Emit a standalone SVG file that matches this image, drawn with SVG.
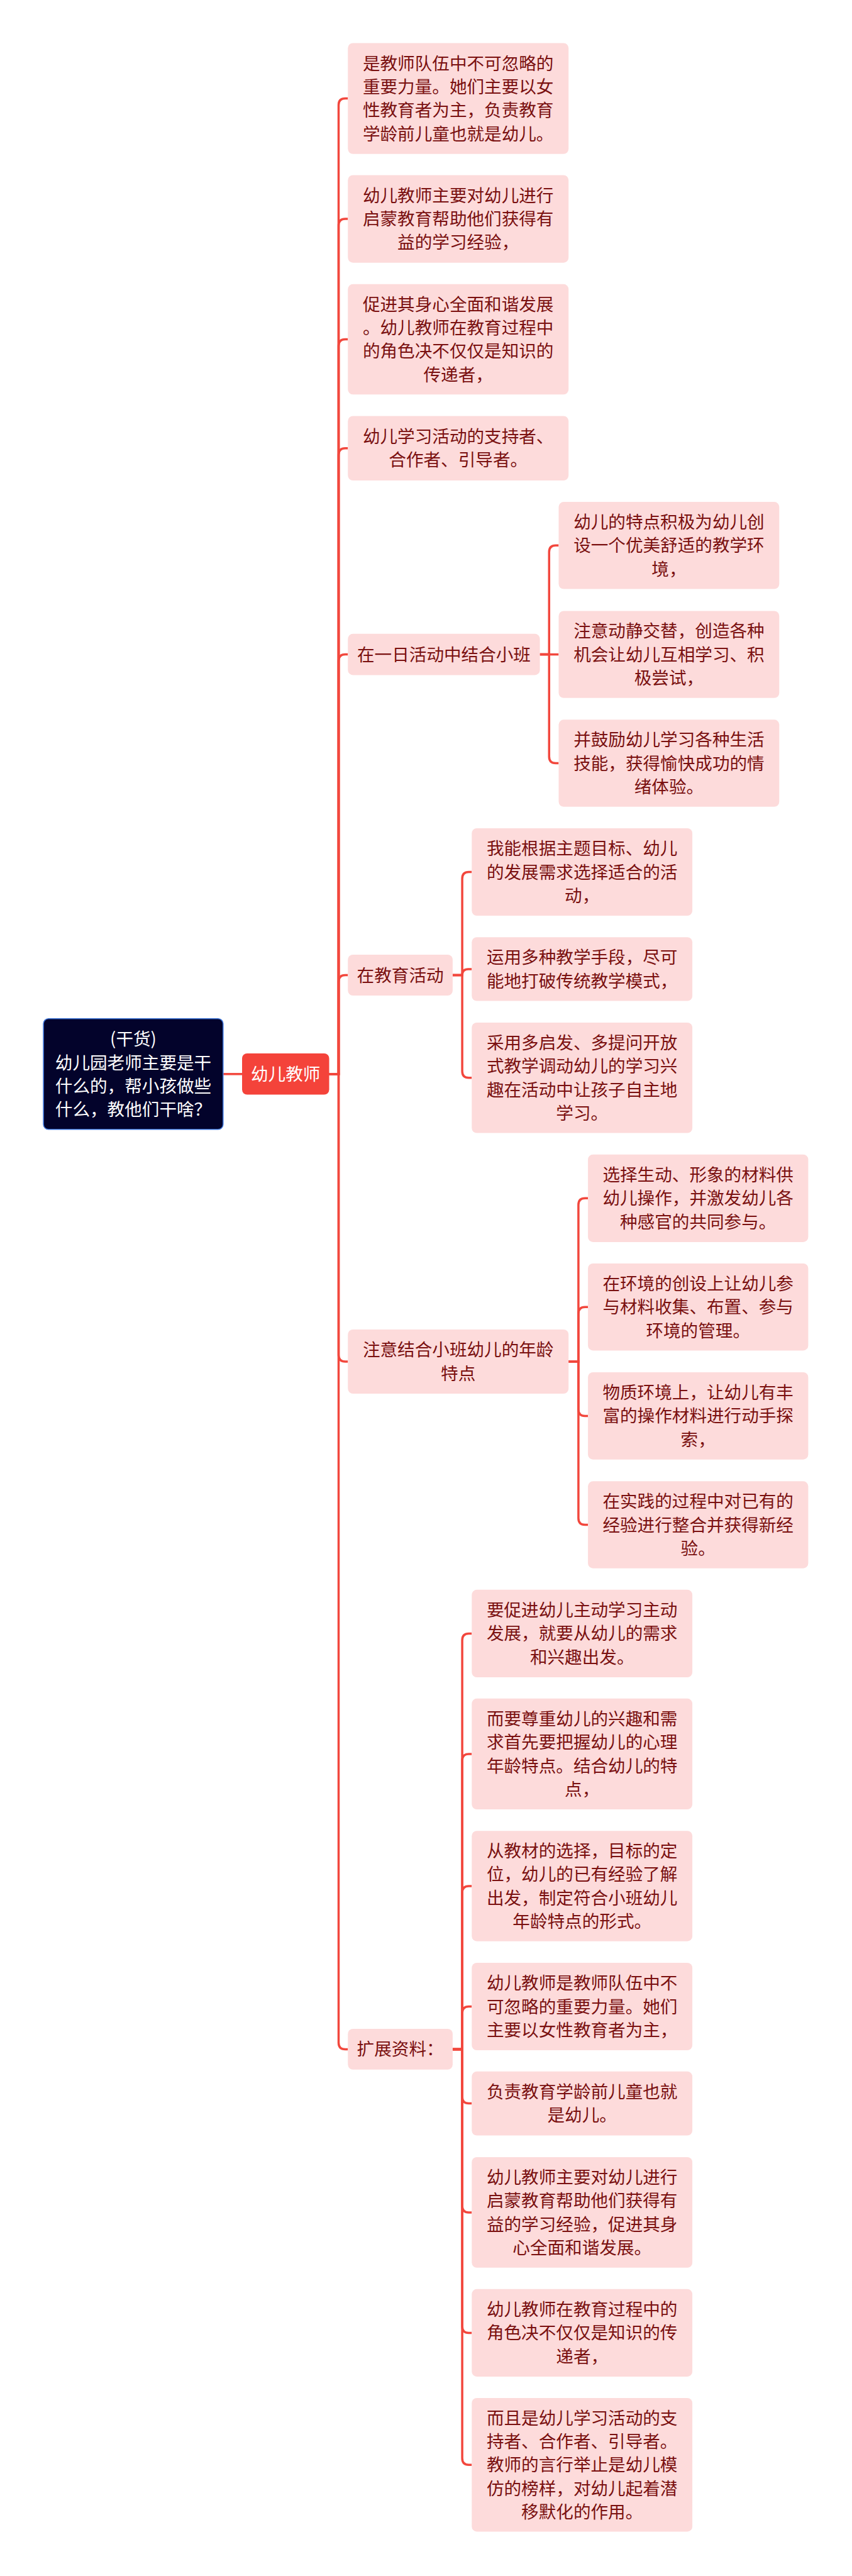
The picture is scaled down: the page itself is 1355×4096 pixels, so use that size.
<svg xmlns="http://www.w3.org/2000/svg" width="1355" height="4096" viewBox="0 0 1355 4096">
<style>
.bg{fill:#ffffff}
.leaf rect{fill:#fddbdb}
.t{font-family:"Noto Sans CJK SC","Noto Sans",sans-serif;font-size:27.6px;fill:#7a1010;text-anchor:middle}
.w{fill:#ffffff}
.c path{fill:none;stroke:#f2473d;stroke-width:3.5;stroke-linecap:butt}
</style>
<rect class="bg" x="0" y="0" width="1355" height="4096"/>
<g class="c" id="connectors">
<path d="M354.8 1707.8H385"/>
<path d="M523.5 1707.8H538.5V167.1Q538.5 156.6 549 156.6H553.3"/>
<path d="M523.5 1707.8H538.5V358.6Q538.5 348.1 549 348.1H553.3"/>
<path d="M523.5 1707.8H538.5V550Q538.5 539.5 549 539.5H553.3"/>
<path d="M523.5 1707.8H538.5V723.3Q538.5 712.8 549 712.8H553.3"/>
<path d="M523.5 1707.8H538.5V1051.1Q538.5 1040.6 549 1040.6H553.3"/>
<path d="M523.5 1707.8H538.5V1561Q538.5 1550.5 549 1550.5H553.3"/>
<path d="M523.5 1707.8H538.5V2154.5Q538.5 2165 549 2165H553.3"/>
<path d="M523.5 1707.8H538.5V3247.9Q538.5 3258.4 549 3258.4H553.3"/>
<path d="M858.6 1040.6H873.3V877.8Q873.3 867.3 883.8 867.3H888.5"/>
<path d="M858.6 1040.6H888.5"/>
<path d="M858.6 1040.6H873.3V1203Q873.3 1213.5 883.8 1213.5H888.5"/>
<path d="M719.9 1550.5H735.1V1397Q735.1 1386.5 745.6 1386.5H750.3"/>
<path d="M719.9 1550.5H735.1V1550.5Q735.1 1540.9 744.7 1540.9H750.3"/>
<path d="M719.9 1550.5H735.1V1703.3Q735.1 1713.8 745.6 1713.8H750.3"/>
<path d="M904.2 2165H919.9V1915.8Q919.9 1905.3 930.4 1905.3H935.1"/>
<path d="M904.2 2165H919.9V2088.7Q919.9 2078.2 930.4 2078.2H935.1"/>
<path d="M904.2 2165H919.9V2240.9Q919.9 2251.4 930.4 2251.4H935.1"/>
<path d="M904.2 2165H919.9V2414Q919.9 2424.5 930.4 2424.5H935.1"/>
<path d="M719.9 3258.4H735.1V2607.9Q735.1 2597.4 745.6 2597.4H750.3"/>
<path d="M719.9 3258.4H735.1V2799.4Q735.1 2788.9 745.6 2788.9H750.3"/>
<path d="M719.9 3258.4H735.1V3009.5Q735.1 2999 745.6 2999H750.3"/>
<path d="M719.9 3258.4H735.1V3201Q735.1 3190.5 745.6 3190.5H750.3"/>
<path d="M719.9 3258.4H735.1V3334.1Q735.1 3344.6 745.6 3344.6H750.3"/>
<path d="M719.9 3258.4H735.1V3507.4Q735.1 3517.9 745.6 3517.9H750.3"/>
<path d="M719.9 3258.4H735.1V3698.9Q735.1 3709.4 745.6 3709.4H750.3"/>
<path d="M719.9 3258.4H735.1V3908.7Q735.1 3919.2 745.6 3919.2H750.3"/>
</g>

<g id="root">
<rect x="69.1" y="1619.8" width="285.7" height="176" rx="8" fill="#03032b" stroke="#3d74d9" stroke-width="1.6"/>
<text class="t w" x="212" y="1662.4">(干货)</text>
<text class="t w" x="212" y="1699.7">幼儿园老师主要是干</text>
<text class="t w" x="212" y="1737">什么的，帮小孩做些</text>
<text class="t w" x="212" y="1774.3">什么，教他们干啥？</text>
</g>

<g id="main">
<rect x="385" y="1675" width="138.5" height="65.6" rx="8" fill="#f4433a"/>
<text class="t w" x="454.2" y="1717.8">幼儿教师</text>
</g>

<g class="leaf" id="n1">
<rect x="553.3" y="68.5" width="350.9" height="176.3" rx="8"/>
<text class="t" x="728.7" y="110.7">是教师队伍中不可忽略的</text>
<text class="t" x="728.7" y="148">重要力量。她们主要以女</text>
<text class="t" x="728.7" y="185.3">性教育者为主，负责教育</text>
<text class="t" x="728.7" y="222.6">学龄前儿童也就是幼儿。</text>
</g>
<g class="leaf" id="n2">
<rect x="553.3" y="278.5" width="350.9" height="139.2" rx="8"/>
<text class="t" x="728.7" y="320.8">幼儿教师主要对幼儿进行</text>
<text class="t" x="728.7" y="358.1">启蒙教育帮助他们获得有</text>
<text class="t" x="728.7" y="395.4">益的学习经验，</text>
</g>
<g class="leaf" id="n3">
<rect x="553.3" y="451.8" width="350.9" height="175.5" rx="8"/>
<text class="t" x="728.7" y="493.6">促进其身心全面和谐发展</text>
<text class="t" x="728.7" y="530.9">。幼儿教师在教育过程中</text>
<text class="t" x="728.7" y="568.2">的角色决不仅仅是知识的</text>
<text class="t" x="728.7" y="605.5">传递者，</text>
</g>
<g class="leaf" id="n4">
<rect x="553.3" y="661.5" width="350.9" height="102.5" rx="8"/>
<text class="t" x="728.7" y="704.1">幼儿学习活动的支持者、</text>
<text class="t" x="728.7" y="741.4">合作者、引导者。</text>
</g>

<g class="leaf" id="b1">
<rect x="553.3" y="1007.8" width="305.3" height="65.6" rx="8"/>
<text class="t" x="706" y="1050.6">在一日活动中结合小班</text>
</g>
<g class="leaf" id="b1s1">
<rect x="888.5" y="798.1" width="350.8" height="138.4" rx="8"/>
<text class="t" x="1063.9" y="840">幼儿的特点积极为幼儿创</text>
<text class="t" x="1063.9" y="877.3">设一个优美舒适的教学环</text>
<text class="t" x="1063.9" y="914.6">境，</text>
</g>
<g class="leaf" id="b1s2">
<rect x="888.5" y="971.4" width="350.8" height="138.4" rx="8"/>
<text class="t" x="1063.9" y="1013.3">注意动静交替，创造各种</text>
<text class="t" x="1063.9" y="1050.6">机会让幼儿互相学习、积</text>
<text class="t" x="1063.9" y="1087.9">极尝试，</text>
</g>
<g class="leaf" id="b1s3">
<rect x="888.5" y="1144.3" width="350.8" height="138.5" rx="8"/>
<text class="t" x="1063.9" y="1186.3">并鼓励幼儿学习各种生活</text>
<text class="t" x="1063.9" y="1223.6">技能，获得愉快成功的情</text>
<text class="t" x="1063.9" y="1260.9">绪体验。</text>
</g>

<g class="leaf" id="b2">
<rect x="553.3" y="1518" width="166.6" height="65" rx="8"/>
<text class="t" x="636.6" y="1560.5">在教育活动</text>
</g>
<g class="leaf" id="b2s1">
<rect x="750.3" y="1316.9" width="350.8" height="139.2" rx="8"/>
<text class="t" x="925.7" y="1359.2">我能根据主题目标、幼儿</text>
<text class="t" x="925.7" y="1396.5">的发展需求选择适合的活</text>
<text class="t" x="925.7" y="1433.8">动，</text>
</g>
<g class="leaf" id="b2s2">
<rect x="750.3" y="1490.2" width="350.8" height="101.3" rx="8"/>
<text class="t" x="925.7" y="1532.2">运用多种教学手段，尽可</text>
<text class="t" x="925.7" y="1569.5">能地打破传统教学模式，</text>
</g>
<g class="leaf" id="b2s3">
<rect x="750.3" y="1626" width="350.8" height="175.6" rx="8"/>
<text class="t" x="925.7" y="1667.9">采用多启发、多提问开放</text>
<text class="t" x="925.7" y="1705.2">式教学调动幼儿的学习兴</text>
<text class="t" x="925.7" y="1742.5">趣在活动中让孩子自主地</text>
<text class="t" x="925.7" y="1779.8">学习。</text>
</g>

<g class="leaf" id="b3">
<rect x="553.3" y="2114" width="350.9" height="102.1" rx="8"/>
<text class="t" x="728.7" y="2156.4">注意结合小班幼儿的年龄</text>
<text class="t" x="728.7" y="2193.7">特点</text>
</g>
<g class="leaf" id="b3s1">
<rect x="935.1" y="1835.7" width="350.3" height="139.2" rx="8"/>
<text class="t" x="1110.2" y="1878">选择生动、形象的材料供</text>
<text class="t" x="1110.2" y="1915.3">幼儿操作，并激发幼儿各</text>
<text class="t" x="1110.2" y="1952.6">种感官的共同参与。</text>
</g>
<g class="leaf" id="b3s2">
<rect x="935.1" y="2009" width="350.3" height="138.4" rx="8"/>
<text class="t" x="1110.2" y="2050.9">在环境的创设上让幼儿参</text>
<text class="t" x="1110.2" y="2088.2">与材料收集、布置、参与</text>
<text class="t" x="1110.2" y="2125.5">环境的管理。</text>
</g>
<g class="leaf" id="b3s3">
<rect x="935.1" y="2182" width="350.3" height="138.7" rx="8"/>
<text class="t" x="1110.2" y="2224.1">物质环境上，让幼儿有丰</text>
<text class="t" x="1110.2" y="2261.4">富的操作材料进行动手探</text>
<text class="t" x="1110.2" y="2298.7">索，</text>
</g>
<g class="leaf" id="b3s4">
<rect x="935.1" y="2355.3" width="350.3" height="138.4" rx="8"/>
<text class="t" x="1110.2" y="2397.2">在实践的过程中对已有的</text>
<text class="t" x="1110.2" y="2434.5">经验进行整合并获得新经</text>
<text class="t" x="1110.2" y="2471.8">验。</text>
</g>

<g class="leaf" id="b4">
<rect x="553.3" y="3225.9" width="166.6" height="64.9" rx="8"/>
<text class="t" x="636.6" y="3268.4">扩展资料：</text>
</g>
<g class="leaf" id="b4s1">
<rect x="750.3" y="2527.8" width="350.8" height="139.2" rx="8"/>
<text class="t" x="925.7" y="2570.1">要促进幼儿主动学习主动</text>
<text class="t" x="925.7" y="2607.4">发展，就要从幼儿的需求</text>
<text class="t" x="925.7" y="2644.7">和兴趣出发。</text>
</g>
<g class="leaf" id="b4s2">
<rect x="750.3" y="2700.8" width="350.8" height="176.2" rx="8"/>
<text class="t" x="925.7" y="2743">而要尊重幼儿的兴趣和需</text>
<text class="t" x="925.7" y="2780.3">求首先要把握幼儿的心理</text>
<text class="t" x="925.7" y="2817.6">年龄特点。结合幼儿的特</text>
<text class="t" x="925.7" y="2854.9">点，</text>
</g>
<g class="leaf" id="b4s3">
<rect x="750.3" y="2911.2" width="350.8" height="175.5" rx="8"/>
<text class="t" x="925.7" y="2953.1">从教材的选择，目标的定</text>
<text class="t" x="925.7" y="2990.4">位，幼儿的已有经验了解</text>
<text class="t" x="925.7" y="3027.7">出发，制定符合小班幼儿</text>
<text class="t" x="925.7" y="3065">年龄特点的形式。</text>
</g>
<g class="leaf" id="b4s4">
<rect x="750.3" y="3120.9" width="350.8" height="139.1" rx="8"/>
<text class="t" x="925.7" y="3163.2">幼儿教师是教师队伍中不</text>
<text class="t" x="925.7" y="3200.5">可忽略的重要力量。她们</text>
<text class="t" x="925.7" y="3237.8">主要以女性教育者为主，</text>
</g>
<g class="leaf" id="b4s5">
<rect x="750.3" y="3293.8" width="350.8" height="101.7" rx="8"/>
<text class="t" x="925.7" y="3336">负责教育学龄前儿童也就</text>
<text class="t" x="925.7" y="3373.3">是幼儿。</text>
</g>
<g class="leaf" id="b4s6">
<rect x="750.3" y="3430" width="350.8" height="175.8" rx="8"/>
<text class="t" x="925.7" y="3472">幼儿教师主要对幼儿进行</text>
<text class="t" x="925.7" y="3509.3">启蒙教育帮助他们获得有</text>
<text class="t" x="925.7" y="3546.6">益的学习经验，促进其身</text>
<text class="t" x="925.7" y="3583.9">心全面和谐发展。</text>
</g>
<g class="leaf" id="b4s7">
<rect x="750.3" y="3639.8" width="350.8" height="139.1" rx="8"/>
<text class="t" x="925.7" y="3682.1">幼儿教师在教育过程中的</text>
<text class="t" x="925.7" y="3719.4">角色决不仅仅是知识的传</text>
<text class="t" x="925.7" y="3756.7">递者，</text>
</g>
<g class="leaf" id="b4s8">
<rect x="750.3" y="3813" width="350.8" height="212.4" rx="8"/>
<text class="t" x="925.7" y="3854.6">而且是幼儿学习活动的支</text>
<text class="t" x="925.7" y="3891.9">持者、合作者、引导者。</text>
<text class="t" x="925.7" y="3929.2">教师的言行举止是幼儿模</text>
<text class="t" x="925.7" y="3966.5">仿的榜样，对幼儿起着潜</text>
<text class="t" x="925.7" y="4003.8">移默化的作用。</text>
</g>
</svg>
